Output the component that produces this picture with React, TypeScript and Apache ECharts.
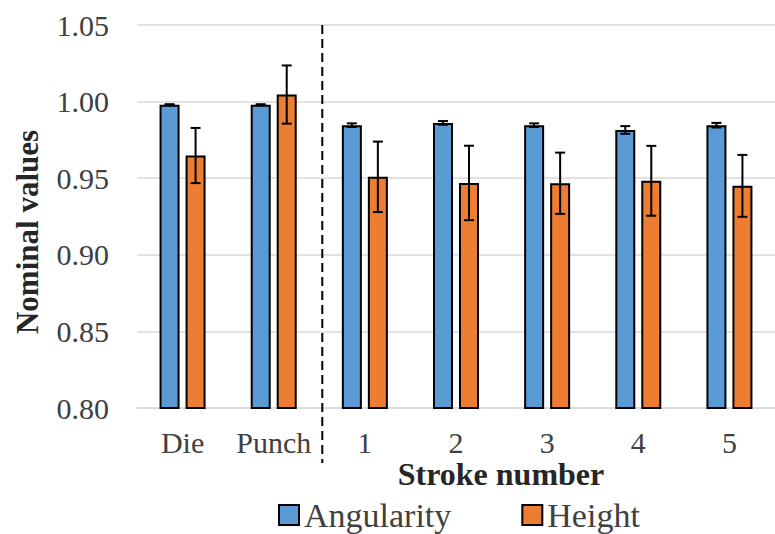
import React, { useEffect, useRef } from "react";
import * as echarts from "echarts";

const categories = ["Die", "Punch", "1", "2", "3", "4", "5"];
const seriesNames = ["Angularity", "Height"];
const angularity = [0.998, 0.998, 0.9846, 0.9861, 0.9846, 0.9815, 0.9846];
const angularityErr = [0.0003, 0.0003, 0.0012, 0.0012, 0.0012, 0.0025, 0.0015];
const height = [0.9648, 1.0046, 0.9509, 0.9469, 0.9467, 0.9483, 0.945];
const heightErr = [0.018, 0.019, 0.023, 0.0243, 0.02, 0.0228, 0.0202];
const yMin = 0.8;
const yMax = 1.05;
const yInterval = 0.05;
const separatorAfterIndex = 1;
const xTitle = "Stroke number";
const yTitle = "Nominal values";

const FONT = "Liberation Serif";
const BLUE = "#5B9BD5";
const ORANGE = "#ED7D31";

function errorSeries(name: string, values: number[], errs: number[], offset: number) {
  return {
    type: "custom",
    name: name + " error",
    data: values.map((v, i) => [i, v, errs[i]]),
    encode: { x: 0, y: 1 },
    clip: false,
    silent: true,
    z: 10,
    renderItem: (_params: any, api: any) => {
      const i = api.value(0);
      const v = api.value(1);
      const e = api.value(2);
      const c = api.coord([i, v]);
      const hi = api.coord([i, v + e]);
      const lo = api.coord([i, v - e]);
      const x = c[0] + offset;
      const style = { stroke: "#000", lineWidth: 2 };
      return {
        type: "group",
        children: [
          { type: "line", shape: { x1: x, y1: hi[1], x2: x, y2: lo[1] }, style },
          { type: "line", shape: { x1: x - 5, y1: hi[1], x2: x + 5, y2: hi[1] }, style },
          { type: "line", shape: { x1: x - 5, y1: lo[1], x2: x + 5, y2: lo[1] }, style },
        ],
      };
    },
  };
}

export default function App() {
  const ref = useRef<HTMLDivElement>(null);
  useEffect(() => {
    if (!ref.current) return;
    const chart = echarts.init(ref.current, undefined, { renderer: "svg" });
    chart.setOption({
      animation: false,
      textStyle: { fontFamily: FONT },
      grid: { left: 137, top: 25, width: 648, height: 383, containLabel: false },
      legend: {
        data: seriesNames,
        left: 278,
        top: 498,
        padding: 0,
        itemWidth: 20,
        itemHeight: 20,
        itemGap: 70,
        icon: "rect",
        textStyle: { fontFamily: FONT, fontSize: 34, color: "#404040" },
      },
      xAxis: {
        type: "category",
        data: categories,
        axisLine: { lineStyle: { color: "#D9D9D9", width: 1.5 } },
        axisTick: { show: false },
        axisLabel: { interval: 0, fontFamily: FONT, fontSize: 30, color: "#404040", margin: 19 },
      },
      yAxis: {
        type: "value",
        min: yMin,
        max: yMax,
        interval: yInterval,
        axisLine: { show: false },
        axisTick: { show: false },
        splitLine: { lineStyle: { color: "#D9D9D9", width: 1.5 } },
        axisLabel: {
          fontFamily: FONT,
          fontSize: 30,
          color: "#404040",
          margin: 28,
          formatter: (v: number) => v.toFixed(2),
        },
      },
      graphic: [
        {
          type: "text",
          x: 27,
          y: 232,
          rotation: Math.PI / 2,
          style: {
            text: yTitle,
            fontFamily: FONT,
            fontSize: 31,
            fontWeight: "bold",
            fill: "#262626",
            align: "center",
            verticalAlign: "middle",
          },
        },
        {
          type: "text",
          x: 501,
          y: 474,
          style: {
            text: xTitle,
            fontFamily: FONT,
            fontSize: 32,
            fontWeight: "bold",
            fill: "#262626",
            align: "center",
            verticalAlign: "middle",
          },
        },
      ],
      series: [
        {
          type: "bar",
          name: seriesNames[0],
          data: angularity,
          barWidth: 20,
          barGap: "30%",
          itemStyle: { color: BLUE, borderColor: "#000", borderWidth: 2 },
        },
        {
          type: "bar",
          name: seriesNames[1],
          data: height,
          barWidth: 20,
          barGap: "30%",
          itemStyle: { color: ORANGE, borderColor: "#000", borderWidth: 2 },
        },
        errorSeries(seriesNames[0], angularity, angularityErr, -13),
        errorSeries(seriesNames[1], height, heightErr, 13),
        {
          type: "custom",
          name: "separator",
          data: [[separatorAfterIndex, yMax]],
          encode: { x: 0, y: 1 },
          clip: false,
          silent: true,
          renderItem: (_params: any, api: any) => {
            const p = api.coord([api.value(0), api.value(1)]);
            const bw = api.size([1, 0])[0];
            const bottom = api.coord([api.value(0), yMin])[1] + 55;
            const x = p[0] + bw / 2 + 3;
            return {
              type: "line",
              shape: { x1: x, y1: p[1], x2: x, y2: bottom },
              style: { stroke: "#000", lineWidth: 2, lineDash: [9, 5] },
            };
          },
        },
      ],
    });
    return () => chart.dispose();
  }, []);
  return (
    <div
      ref={ref}
      style={{ position: "fixed", left: 0, top: 0, width: 775, height: 534, background: "#fff" }}
    />
  );
}
